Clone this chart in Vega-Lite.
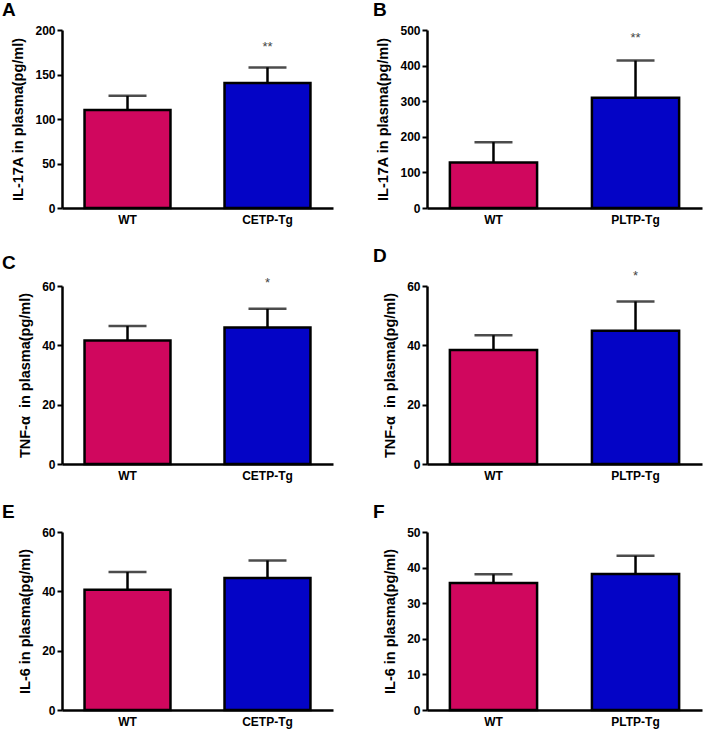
{
  "$schema": "https://vega.github.io/schema/vega-lite/v6.json",
  "background": "white",
  "padding": {"left": 2, "top": 1, "right": 2, "bottom": 2},
  "datasets": {
    "cyto": [
      {"panel": "A", "group": "WT", "mean": 110, "upper": 126, "star": ""},
      {"panel": "A", "group": "CETP-Tg", "mean": 140.5, "upper": 158, "star": "**"},
      {"panel": "B", "group": "WT", "mean": 128, "upper": 185, "star": ""},
      {"panel": "B", "group": "PLTP-Tg", "mean": 310, "upper": 414, "star": "**"},
      {"panel": "C", "group": "WT", "mean": 41.6, "upper": 46.5, "star": ""},
      {"panel": "C", "group": "CETP-Tg", "mean": 46, "upper": 52.3, "star": "*"},
      {"panel": "D", "group": "WT", "mean": 38.4, "upper": 43.4, "star": ""},
      {"panel": "D", "group": "PLTP-Tg", "mean": 44.9, "upper": 54.8, "star": "*"},
      {"panel": "E", "group": "WT", "mean": 40.5, "upper": 46.5, "star": ""},
      {"panel": "E", "group": "CETP-Tg", "mean": 44.5, "upper": 50.4, "star": ""},
      {"panel": "F", "group": "WT", "mean": 35.7, "upper": 38.1, "star": ""},
      {"panel": "F", "group": "PLTP-Tg", "mean": 38.2, "upper": 43.3, "star": ""}
    ]
  },
  "config": {
    "view": {"stroke": null},
    "font": "Liberation Sans",
    "axis": {
      "grid": false,
      "domainColor": "black",
      "domainWidth": 2.5,
      "tickColor": "black",
      "tickWidth": 2,
      "tickSize": 5,
      "labelFont": "Liberation Sans",
      "labelFontWeight": "bold",
      "labelFontSize": 12,
      "labelColor": "black",
      "labelOverlap": false,
      "titleFont": "Liberation Sans",
      "titleFontWeight": "bold",
      "titleFontSize": 14.5,
      "titleColor": "black"
    },
    "axisX": {"ticks": false, "labelAngle": 0, "labelPadding": 6, "title": null},
    "axisY": {"titlePadding": 9, "labelPadding": 2},
    "title": {"font": "Liberation Sans", "fontSize": 19, "fontWeight": "bold", "color": "black", "anchor": "start", "frame": "group", "offset": 0},
    "bar": {"stroke": "black", "strokeWidth": 2.5},
    "scale": {"bandPaddingInner": 0.386, "bandPaddingOuter": 0.161}
  },
  "columns": 2,
  "align": "each",
  "spacing": {"row": 22, "column": 40},
  "concat": [
    {
      "title": {"text": "A", "dx": -60},
      "width": 271, "height": 178,
      "data": {"name": "cyto"},
      "transform": [{"filter": "datum.panel === 'A'"}],
      "encoding": {"x": {"field": "group", "type": "nominal", "sort": null}},
      "layer": [
        {"mark": {"type": "bar"}, "encoding": {
          "y": {"field": "mean", "type": "quantitative", "scale": {"domain": [0, 200], "nice": false}, "axis": {"values": [0, 50, 100, 150, 200], "title": "IL-17A in plasma(pg/ml)"}},
          "fill": {"condition": {"test": "datum.group === 'WT'", "value": "#D0075E"}, "value": "#0404C6"}}},
        {"mark": {"type": "rule", "strokeWidth": 2.5, "color": "black"}, "encoding": {"y": {"field": "mean", "type": "quantitative", "axis": {"values": [0, 50, 100, 150, 200], "title": "IL-17A in plasma(pg/ml)"}}, "y2": {"field": "upper"}}},
        {"mark": {"type": "tick", "size": 38, "thickness": 2.5, "color": "black"}, "encoding": {"y": {"field": "upper", "type": "quantitative", "axis": {"values": [0, 50, 100, 150, 200], "title": "IL-17A in plasma(pg/ml)"}}}},
        {"mark": {"type": "text", "dy": -20, "fontSize": 13, "color": "#444444", "baseline": "middle"}, "encoding": {"y": {"field": "upper", "type": "quantitative", "axis": {"values": [0, 50, 100, 150, 200], "title": "IL-17A in plasma(pg/ml)"}}, "text": {"field": "star"}}}
      ]
    },
    {
      "title": {"text": "B", "dx": -54},
      "width": 275, "height": 178,
      "data": {"name": "cyto"},
      "transform": [{"filter": "datum.panel === 'B'"}],
      "encoding": {"x": {"field": "group", "type": "nominal", "sort": null}},
      "layer": [
        {"mark": {"type": "bar"}, "encoding": {
          "y": {"field": "mean", "type": "quantitative", "scale": {"domain": [0, 500], "nice": false}, "axis": {"values": [0, 100, 200, 300, 400, 500], "title": "IL-17A in plasma(pg/ml)"}},
          "fill": {"condition": {"test": "datum.group === 'WT'", "value": "#D0075E"}, "value": "#0404C6"}}},
        {"mark": {"type": "rule", "strokeWidth": 2.5, "color": "black"}, "encoding": {"y": {"field": "mean", "type": "quantitative", "axis": {"values": [0, 100, 200, 300, 400, 500], "title": "IL-17A in plasma(pg/ml)"}}, "y2": {"field": "upper"}}},
        {"mark": {"type": "tick", "size": 38, "thickness": 2.5, "color": "black"}, "encoding": {"y": {"field": "upper", "type": "quantitative", "axis": {"values": [0, 100, 200, 300, 400, 500], "title": "IL-17A in plasma(pg/ml)"}}}},
        {"mark": {"type": "text", "dy": -23, "fontSize": 13, "color": "#444444", "baseline": "middle"}, "encoding": {"y": {"field": "upper", "type": "quantitative", "axis": {"values": [0, 100, 200, 300, 400, 500], "title": "IL-17A in plasma(pg/ml)"}}, "text": {"field": "star"}}}
      ]
    },
    {
      "title": {"text": "C", "dx": -60},
      "width": 271, "height": 178,
      "data": {"name": "cyto"},
      "transform": [{"filter": "datum.panel === 'C'"}],
      "encoding": {"x": {"field": "group", "type": "nominal", "sort": null}},
      "layer": [
        {"mark": {"type": "bar"}, "encoding": {
          "y": {"field": "mean", "type": "quantitative", "scale": {"domain": [0, 60], "nice": false}, "axis": {"values": [0, 20, 40, 60], "title": "TNF-α\u00a0\u00a0in plasma(pg/ml)"}},
          "fill": {"condition": {"test": "datum.group === 'WT'", "value": "#D0075E"}, "value": "#0404C6"}}},
        {"mark": {"type": "rule", "strokeWidth": 2.5, "color": "black"}, "encoding": {"y": {"field": "mean", "type": "quantitative", "axis": {"values": [0, 20, 40, 60], "title": "TNF-α\u00a0\u00a0in plasma(pg/ml)"}}, "y2": {"field": "upper"}}},
        {"mark": {"type": "tick", "size": 38, "thickness": 2.5, "color": "black"}, "encoding": {"y": {"field": "upper", "type": "quantitative", "axis": {"values": [0, 20, 40, 60], "title": "TNF-α\u00a0\u00a0in plasma(pg/ml)"}}}},
        {"mark": {"type": "text", "dy": -26, "fontSize": 13, "color": "#444444", "baseline": "middle"}, "encoding": {"y": {"field": "upper", "type": "quantitative", "axis": {"values": [0, 20, 40, 60], "title": "TNF-α\u00a0\u00a0in plasma(pg/ml)"}}, "text": {"field": "star"}}}
      ]
    },
    {
      "title": {"text": "D", "dx": -54},
      "width": 275, "height": 178,
      "data": {"name": "cyto"},
      "transform": [{"filter": "datum.panel === 'D'"}],
      "encoding": {"x": {"field": "group", "type": "nominal", "sort": null}},
      "layer": [
        {"mark": {"type": "bar"}, "encoding": {
          "y": {"field": "mean", "type": "quantitative", "scale": {"domain": [0, 60], "nice": false}, "axis": {"values": [0, 20, 40, 60], "title": "TNF-α\u00a0\u00a0in plasma(pg/ml)"}},
          "fill": {"condition": {"test": "datum.group === 'WT'", "value": "#D0075E"}, "value": "#0404C6"}}},
        {"mark": {"type": "rule", "strokeWidth": 2.5, "color": "black"}, "encoding": {"y": {"field": "mean", "type": "quantitative", "axis": {"values": [0, 20, 40, 60], "title": "TNF-α\u00a0\u00a0in plasma(pg/ml)"}}, "y2": {"field": "upper"}}},
        {"mark": {"type": "tick", "size": 38, "thickness": 2.5, "color": "black"}, "encoding": {"y": {"field": "upper", "type": "quantitative", "axis": {"values": [0, 20, 40, 60], "title": "TNF-α\u00a0\u00a0in plasma(pg/ml)"}}}},
        {"mark": {"type": "text", "dy": -25, "fontSize": 13, "color": "#444444", "baseline": "middle"}, "encoding": {"y": {"field": "upper", "type": "quantitative", "axis": {"values": [0, 20, 40, 60], "title": "TNF-α\u00a0\u00a0in plasma(pg/ml)"}}, "text": {"field": "star"}}}
      ]
    },
    {
      "title": {"text": "E", "dx": -60},
      "width": 271, "height": 178,
      "data": {"name": "cyto"},
      "transform": [{"filter": "datum.panel === 'E'"}],
      "encoding": {"x": {"field": "group", "type": "nominal", "sort": null}},
      "layer": [
        {"mark": {"type": "bar"}, "encoding": {
          "y": {"field": "mean", "type": "quantitative", "scale": {"domain": [0, 60], "nice": false}, "axis": {"values": [0, 20, 40, 60], "title": "IL-6 in plasma(pg/ml)"}},
          "fill": {"condition": {"test": "datum.group === 'WT'", "value": "#D0075E"}, "value": "#0404C6"}}},
        {"mark": {"type": "rule", "strokeWidth": 2.5, "color": "black"}, "encoding": {"y": {"field": "mean", "type": "quantitative", "axis": {"values": [0, 20, 40, 60], "title": "IL-6 in plasma(pg/ml)"}}, "y2": {"field": "upper"}}},
        {"mark": {"type": "tick", "size": 38, "thickness": 2.5, "color": "black"}, "encoding": {"y": {"field": "upper", "type": "quantitative", "axis": {"values": [0, 20, 40, 60], "title": "IL-6 in plasma(pg/ml)"}}}}
      ]
    },
    {
      "title": {"text": "F", "dx": -54},
      "width": 275, "height": 178,
      "data": {"name": "cyto"},
      "transform": [{"filter": "datum.panel === 'F'"}],
      "encoding": {"x": {"field": "group", "type": "nominal", "sort": null}},
      "layer": [
        {"mark": {"type": "bar"}, "encoding": {
          "y": {"field": "mean", "type": "quantitative", "scale": {"domain": [0, 50], "nice": false}, "axis": {"values": [0, 10, 20, 30, 40, 50], "title": "IL-6 in plasma(pg/ml)"}},
          "fill": {"condition": {"test": "datum.group === 'WT'", "value": "#D0075E"}, "value": "#0404C6"}}},
        {"mark": {"type": "rule", "strokeWidth": 2.5, "color": "black"}, "encoding": {"y": {"field": "mean", "type": "quantitative", "axis": {"values": [0, 10, 20, 30, 40, 50], "title": "IL-6 in plasma(pg/ml)"}}, "y2": {"field": "upper"}}},
        {"mark": {"type": "tick", "size": 38, "thickness": 2.5, "color": "black"}, "encoding": {"y": {"field": "upper", "type": "quantitative", "axis": {"values": [0, 10, 20, 30, 40, 50], "title": "IL-6 in plasma(pg/ml)"}}}}
      ]
    }
  ]
}
